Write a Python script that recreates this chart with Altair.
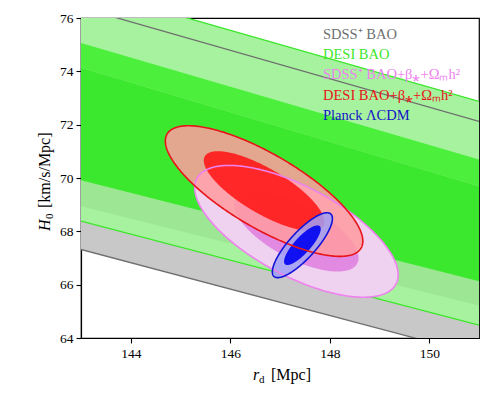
import numpy as np
import pandas as pd
import altair as alt

# ---------------- data ----------------
band_rd = [143.0, 151.0]
# SDSS+ BAO bands (H0 at rd=143 and rd=151)
sdss_2s_lo = [67.32, 63.36]
sdss_2s_hi = [76.39, 72.12]
sdss_1s_lo = [68.94, 65.22]
sdss_1s_hi = [75.06, 70.69]
# DESI BAO bands
desi_2s_lo = [68.38, 64.48]
desi_2s_hi = [77.14, 72.87]
desi_1s_lo = [69.92, 66.13]
desi_1s_hi = [74.13, 69.69]

# Gaussian contours: SDSS+ BAO+..., DESI BAO+..., Planck LCDM
ell_rd = [147.33, 146.68, 147.45]
ell_h0 = [68.00, 69.51, 67.48]
ell_srd = [0.823, 0.799, 0.243]
ell_sh0 = [0.995, 0.986, 0.490]
ell_rho = [-0.66, -0.766, 0.82]
ell_levels = [np.sqrt(2.30), np.sqrt(6.17)]  # 1 sigma, 2 sigma

legend_labels = ["SDSS⁺ BAO", "DESI BAO", "SDSS⁺ BAO+β⁎+Ωₘh²",
                 "DESI BAO+β⁎+Ωₘh²", "Planck ΛCDM"]
legend_colors = ["#707070", "#3ce62a", "#ee82ee", "#e8141a", "#1414c8"]

x_ticks = [144, 146, 148, 150]
y_ticks = [64, 66, 68, 70, 72, 74, 76]

FONT = "Liberation Serif"

xs = alt.Scale(domain=[143, 151], nice=False, zero=False)
ys = alt.Scale(domain=[64, 76], nice=False, zero=False)
xaxis = alt.Axis(values=x_ticks, title=None, grid=False, tickSize=5,
                 labelFont=FONT, labelFontSize=13.5, labelColor="black",
                 domainColor="black", tickColor="black", labelPadding=3)
yaxis = alt.Axis(values=y_ticks, title=None, grid=False, tickSize=5,
                 labelFont=FONT, labelFontSize=13.5, labelColor="black",
                 domainColor="black", tickColor="black", labelPadding=3)


def X(f):
    return alt.X(f, scale=xs, axis=xaxis)


def Y(f):
    return alt.Y(f, scale=ys, axis=yaxis)


def band(lo, hi, color):
    df = pd.DataFrame({"rd": band_rd, "lo": lo, "hi": hi})
    return alt.Chart(df).mark_area(clip=True, color=color, orient="vertical").encode(
        x=X("rd:Q"), y=Y("lo:Q"), y2="hi:Q")


def bline(vals, color, width):
    df = pd.DataFrame({"rd": band_rd, "h": vals})
    return alt.Chart(df).mark_line(clip=True, color=color, strokeWidth=width).encode(
        x=X("rd:Q"), y=Y("h:Q"))


def ell_fill(i, k, color, opacity):
    t = np.linspace(0, np.pi, 181)
    x0, y0, sx, sy, r = ell_rd[i], ell_h0[i], ell_srd[i], ell_sh0[i], ell_rho[i]
    x = x0 - k * sx * np.cos(t)
    base = y0 - r * sy * k * np.cos(t)
    half = k * sy * np.sqrt(1 - r * r) * np.sin(t)
    df = pd.DataFrame({"rd": x, "lo": base - half, "hi": base + half})
    return alt.Chart(df).mark_area(clip=True, color=color, opacity=opacity,
                                   orient="vertical").encode(
        x=X("rd:Q"), y=Y("lo:Q"), y2="hi:Q")


def ell_line(i, k, color, width):
    t = np.linspace(0, 2 * np.pi, 361)
    x0, y0, sx, sy, r = ell_rd[i], ell_h0[i], ell_srd[i], ell_sh0[i], ell_rho[i]
    x = x0 + k * sx * np.cos(t)
    y = y0 + k * sy * (r * np.cos(t) + np.sqrt(1 - r * r) * np.sin(t))
    df = pd.DataFrame({"rd": x, "h": y, "i": np.arange(len(t))})
    return alt.Chart(df).mark_line(clip=True, color=color, strokeWidth=width).encode(
        x=X("rd:Q"), y=Y("h:Q"), order=alt.Order("i:Q"))


def txt(s, x, y, size, color="black", style="normal", angle=0, align="left",
        baseline="alphabetic"):
    df = pd.DataFrame({"t": [s]})
    kw = dict(align=align, baseline=baseline, font=FONT, fontSize=size,
              color=color, fontStyle=style)
    if angle:
        kw["angle"] = angle
    return alt.Chart(df).mark_text(**kw).encode(
        text="t:N", x=alt.value(x), y=alt.value(y))


layers = [
    band(sdss_2s_lo, sdss_2s_hi, "#c8c8c8"),
    band(desi_2s_lo, desi_2s_hi, "#a6f29e"),
    band(desi_1s_hi, sdss_1s_hi, "#4cf03c"),
    band(sdss_1s_lo, desi_1s_lo, "#9de694"),
    band(desi_1s_lo, desi_1s_hi, "#3ce82d"),
    bline(desi_2s_lo, "#3ce62a", 1.3),
    bline(desi_2s_hi, "#3ce62a", 1.3),
    bline(sdss_2s_lo, "#707070", 1.3),
    bline(sdss_2s_hi, "#707070", 1.3),
    # contours
    ell_fill(0, ell_levels[1], "#efd2ef", 1.0),
    ell_fill(0, ell_levels[0], "#e28ae2", 1.0),
    ell_fill(1, ell_levels[1], "#ff9ba0", 0.85),
    ell_fill(1, ell_levels[0], "#ff1a1a", 0.9),
    ell_fill(2, ell_levels[1], "#a0a0f5", 0.85),
    ell_fill(2, ell_levels[0], "#1010f0", 1.0),
    ell_line(0, ell_levels[1], "#ee82ee", 1.6),
    ell_line(1, ell_levels[1], "#e8141a", 1.6),
    ell_line(2, ell_levels[1], "#1414d8", 1.6),
]

leg_y = [17, 37, 57, 78, 98]
for lab, col, yy in zip(legend_labels, legend_colors, leg_y):
    layers.append(txt(lab, 242, yy, 14.5, color=col, baseline="middle"))

# x title: r_d [Mpc]
layers.append(txt("r", 172, 362, 16, style="italic"))
layers.append(txt("d", 178, 365, 11))
layers.append(txt("[Mpc]", 190, 362, 16))
# y title: H_0 [km/s/Mpc]
layers.append(txt("H", -31, 213, 16, style="italic", angle=270))
layers.append(txt("0", -28, 201, 11, angle=270))
layers.append(txt("[km/s/Mpc]", -31, 190, 16, angle=270))

chart = alt.layer(*layers).properties(
    width=398, height=320,
    padding={"left": 73, "top": 10, "right": 13, "bottom": 50},
    autosize=alt.AutoSizeParams(type="none"),
).configure_view(stroke="black", strokeWidth=1.2).configure_axis(
    domainWidth=1.2, tickWidth=1.1)

chart.save("out.html", embed_options={"renderer": "svg", "actions": False})
